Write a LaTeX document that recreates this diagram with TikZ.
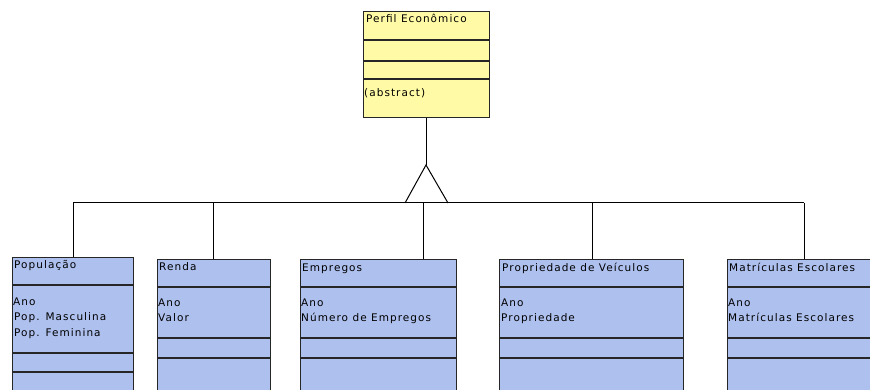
\documentclass[tikz,border=0pt]{standalone}
\usepackage{fontspec}
\setmainfont[LetterSpace=10]{DejaVu Sans}
\definecolor{umlyellow}{RGB}{255,250,165}
\definecolor{umlblue}{RGB}{174,192,238}
\tikzset{
  classbox/.style={draw=black!85,line width=1.3pt,anchor=north west,inner sep=0pt},
  lbl/.style={anchor=base west,inner sep=0pt,font=\fontsize{10.5}{12}\selectfont},
  conn/.style={draw=black,line width=1pt}
}
\begin{document}
\begin{tikzpicture}[x=1pt,y=-1pt]
  \useasboundingbox (0,0) rectangle (870,390);
  \clip (0,0) rectangle (870,390);
  % superclass
  \node[classbox,fill=umlyellow,minimum width=126pt,minimum height=106pt] (econ) at (363,11) {};
  \draw[line width=1.3pt,black!85] (363,40) -- (489,40) (363,61) -- (489,61) (363,79) -- (489,79);
  \node[lbl] (econname) at (366,23) {Perfil Econômico};
  \node[lbl] (econabs) at (364,97) {(abstract)};

  % subclasses
  \node[classbox,fill=umlblue,minimum width=121pt,minimum height=150pt] (pop) at (12,257) {};
  \draw[line width=1.3pt,black!85] (12,285) -- (133,285) (12,353) -- (133,353) (12,372) -- (133,372);
  \node[lbl] (popname) at (14,268) {População};
  \node[lbl] (popa) at (13,305) {Ano};
  \node[lbl] (popb) at (14,320) {Pop. Masculina};
  \node[lbl] (popc) at (14,336) {Pop. Feminina};

  \node[classbox,fill=umlblue,minimum width=113pt,minimum height=150pt] (renda) at (157,259) {};
  \draw[line width=1.3pt,black!85] (157,287) -- (270,287) (157,338) -- (270,338) (157,358) -- (270,358);
  \node[lbl] (rendaname) at (159,270) {Renda};
  \node[lbl] (rendaa) at (158,306) {Ano};
  \node[lbl] (rendab) at (158,321) {Valor};

  \node[classbox,fill=umlblue,minimum width=156pt,minimum height=150pt] (emp) at (300,259) {};
  \draw[line width=1.3pt,black!85] (300,287) -- (456,287) (300,338) -- (456,338) (300,358) -- (456,358);
  \node[lbl] (empname) at (302,271) {Empregos};
  \node[lbl] (empa) at (301,306) {Ano};
  \node[lbl] (empb) at (301,321) {Número de Empregos};

  \node[classbox,fill=umlblue,minimum width=184pt,minimum height=150pt] (prop) at (499,259) {};
  \draw[line width=1.3pt,black!85] (499,287) -- (683,287) (499,338) -- (683,338) (499,358) -- (683,358);
  \node[lbl] (propname) at (502,271) {Propriedade de Veículos};
  \node[lbl] (propa) at (501,306) {Ano};
  \node[lbl] (propb) at (501,321) {Propriedade};

  \node[classbox,fill=umlblue,minimum width=154pt,minimum height=150pt] (matr) at (727,259) {};
  \draw[line width=1.3pt,black!85] (727,287) -- (881,287) (727,338) -- (881,338) (727,358) -- (881,358);
  \node[lbl] (matrname) at (729,271) {Matrículas Escolares};
  \node[lbl] (matra) at (728,306) {Ano};
  \node[lbl] (matrb) at (728,321) {Matrículas Escolares};

  % generalization
  \coordinate (apex) at (426,165);
  \coordinate (tl) at (405,203);
  \coordinate (tr) at (448,203);
  \coordinate (b1) at (73,203);
  \coordinate (b2) at (213,203);
  \coordinate (b3) at (423,203);
  \coordinate (b4) at (592,203);
  \coordinate (b5) at (804,203);
  \draw[conn] (econ.south -| apex) -- (apex);
  \draw[conn] (tl) -- (apex) -- (tr);
  \draw[conn] (b1) -- (b5);
  \draw[conn] (b1) -- (b1 |- pop.north);
  \draw[conn] (b2) -- (b2 |- renda.north);
  \draw[conn] (b3) -- (b3 |- emp.north);
  \draw[conn] (b4) -- (b4 |- prop.north);
  \draw[conn] (b5) -- (b5 |- matr.north);
\end{tikzpicture}
\end{document}
